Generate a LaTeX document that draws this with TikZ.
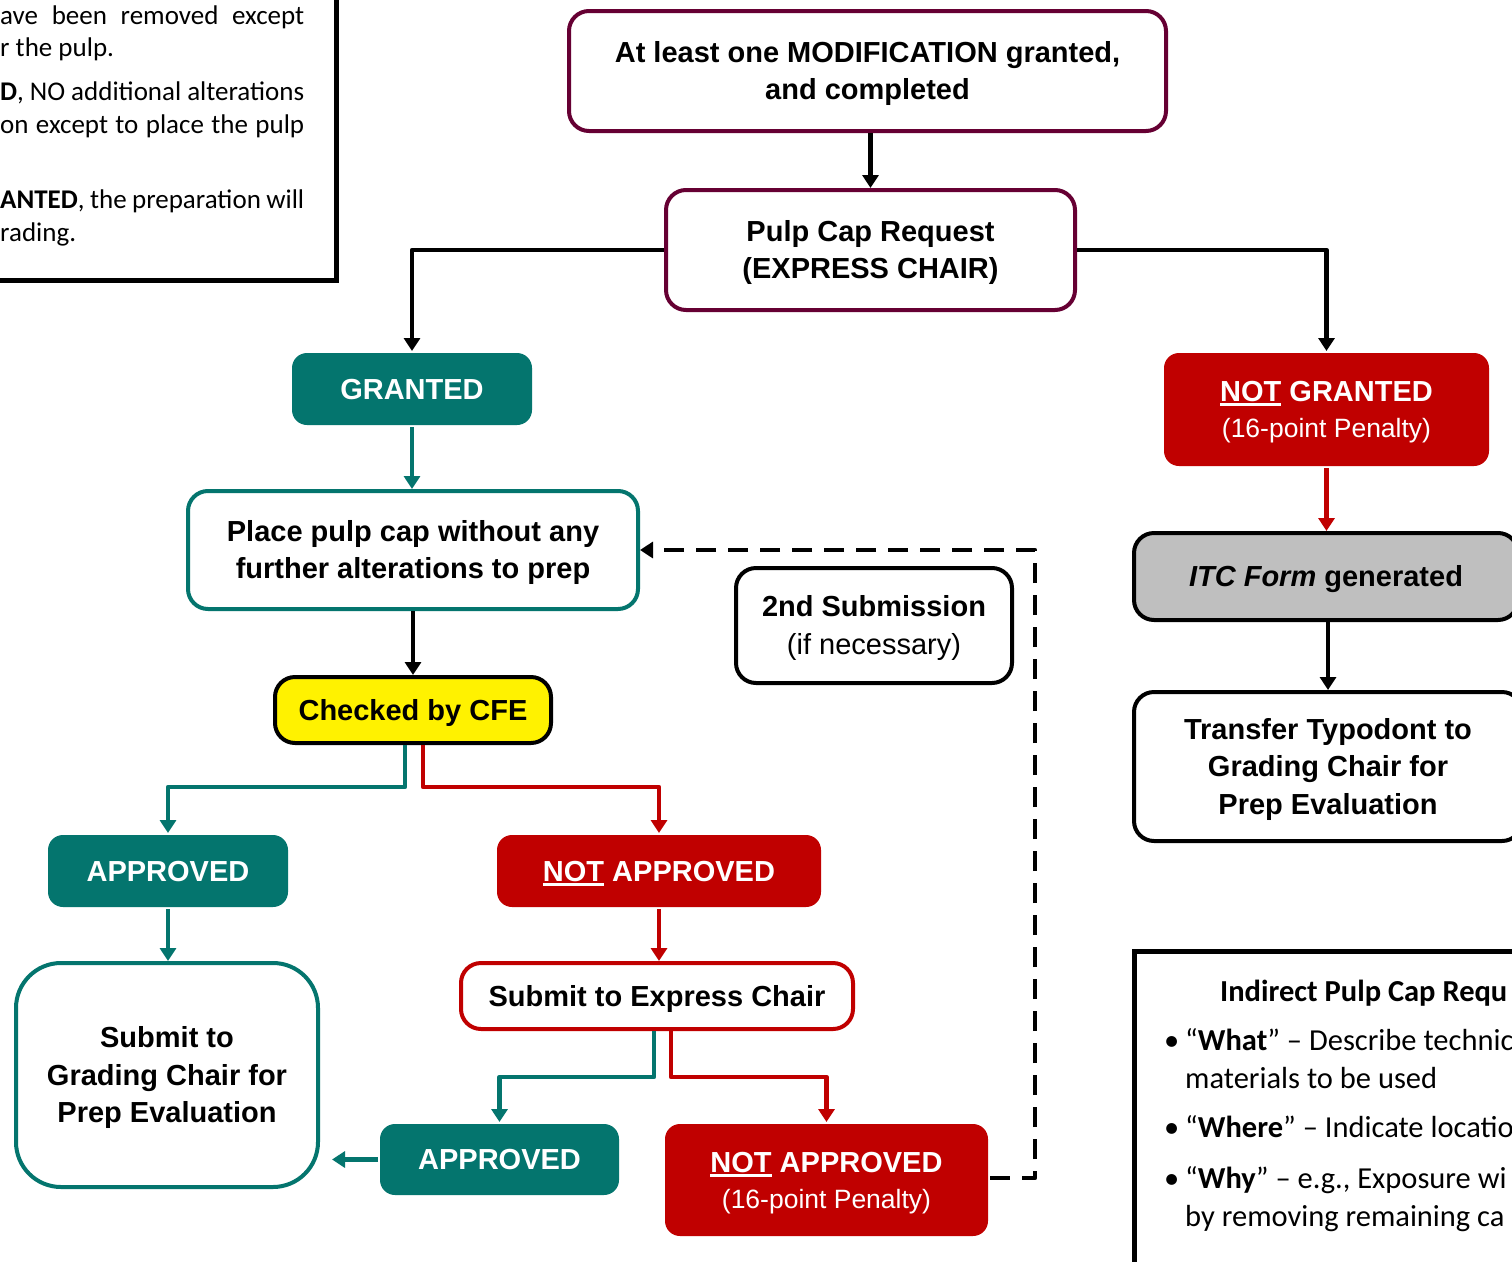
\documentclass[tikz,border=0pt]{standalone}
\usepackage{fontspec}
\setmainfont{Liberation Sans}
\newfontfamily\calfont{Carlito}
\usetikzlibrary{arrows.meta,calc}
\definecolor{mymaroon}{RGB}{102,0,51}
\definecolor{myteal}{RGB}{4,117,110}
\definecolor{myred}{RGB}{192,0,0}
\definecolor{mygray}{RGB}{191,191,191}
\newcommand{\myul}[1]{\setbox0=\hbox{#1}\rlap{\rule[-4.5pt]{\wd0}{2.8pt}}\box0\relax}
\newcommand{\wstrut}{\rule[-6pt]{0pt}{32pt}}
\tikzset{
  box/.style={rounded corners=20pt, line width=4pt, align=center, inner sep=0pt,
    font=\bfseries\fontsize{29}{37.5}\selectfont},
  mbox/.style={box, draw=mymaroon, fill=white},
  tbox/.style={box, draw=myteal, fill=white},
  kbox/.style={box, draw=black, fill=white},
  tfill/.style={box, fill=myteal, text=white, rounded corners=15pt},
  rfill/.style={box, fill=myred, text=white, rounded corners=15pt},
  conn/.style={line width=4.5pt, line join=round, -{Triangle[width=16pt,length=13pt]}},
  cal/.style={anchor=base west, inner sep=0pt, font=\calfont\fontsize{27}{32}\selectfont},
  calb/.style={anchor=base west, inner sep=0pt, font=\calfont\fontsize{30.5}{38}\selectfont},
}
\begin{document}
\begin{tikzpicture}[x=1pt,y=-1pt]
\useasboundingbox (0,0) rectangle (1512,1261);
\clip (0,0) rectangle (1512,1261);
\fill[white] (0,0) rectangle (1512,1261);

% top-left text box
\draw[line width=5pt] (-10,-10) rectangle (336.5,280.5);
\node[cal] (t1) at (0,24) {\makebox[304pt][s]{ave been removed except}};
\node[cal] (t2) at (0,56) {r the pulp.};
\node[cal] (t3) at (0,100) {\makebox[304pt][s]{\textbf{D}, NO additional alterations}};
\node[cal] (t4) at (0,133) {\makebox[304pt][s]{on except to place the pulp}};
\node[cal] (t5) at (0,208) {\makebox[304pt][s]{\textbf{ANTED}, the preparation will}};
\node[cal] (t6) at (0,241) {rading.};

% bottom-right text box
\draw[line width=5pt] (1134.5,951.5) rectangle (1530,1280);
\node[calb] (b0) at (1220,1001) {\textbf{Indirect Pulp Cap Requ}};
\node[calb] (bb1) at (1164,1050) {•};
\node[calb] (b1) at (1185,1050) {“\textbf{What}” – Describe technic};
\node[calb] (b2) at (1185,1088) {materials to be used};
\node[calb] (bb3) at (1164,1137) {•};
\node[calb] (b3) at (1185,1137) {“\textbf{Where}” – Indicate locatio};
\node[calb] (bb4) at (1164,1188) {•};
\node[calb] (b4) at (1185,1188) {“\textbf{Why}” – e.g., Exposure wi};
\node[calb] (b5) at (1185,1226) {by removing remaining ca};

% nodes
\node[mbox, minimum width=597pt, minimum height=120pt] (top) at (867.5,71) {\wstrut At least one MODIFICATION granted,\\and completed\wstrut};
\node[mbox, minimum width=409pt, minimum height=120pt] (pulp) at (870.5,250) {\wstrut Pulp Cap Request\\(EXPRESS CHAIR)\wstrut};
\node[tfill, minimum width=240pt, minimum height=72pt] (gr) at (412,389) {\wstrut GRANTED};
\node[rfill, minimum width=325pt, minimum height=113pt] (ng) at (1326.5,409.5) {\wstrut\myul{NOT} GRANTED\\[-1.5pt]{\mdseries\fontsize{26.5}{36}\selectfont (16-point Penalty)}\wstrut};
\node[tbox, minimum width=450pt, minimum height=118pt] (place) at (413,550) {\wstrut Place pulp cap without any\\further alterations to prep\wstrut};
\node[box, draw=black, fill=mygray, minimum width=384pt, minimum height=87pt] (itc) at (1326,576.5) {\wstrut\textit{ITC Form} generated};
\node[kbox, minimum width=276pt, minimum height=115pt] (sub2) at (874,625.5) {\wstrut 2nd Submission\\{\mdseries (if necessary)}\wstrut};
\node[box, draw=black, fill=yellow, minimum width=276pt, minimum height=66pt] (chk) at (413,710) {\wstrut Checked by CFE};
\node[kbox, minimum width=388pt, minimum height=149pt] (tr) at (1328,766.5) {\wstrut Transfer Typodont to\\Grading Chair for\\Prep Evaluation\wstrut};
\node[tfill, minimum width=240pt, minimum height=72pt] (appr) at (168,871) {\wstrut APPROVED};
\node[rfill, minimum width=324pt, minimum height=72pt] (na) at (659,871) {\wstrut\myul{NOT} APPROVED};
\node[tbox, rounded corners=45pt, minimum width=302pt, minimum height=224pt] (sg) at (167,1075) {\wstrut Submit to\\Grading Chair for\\Prep Evaluation\wstrut};
\node[box, draw=myred, fill=white, minimum width=392pt, minimum height=66pt] (se) at (657,996) {\wstrut Submit to Express Chair};
\node[tfill, minimum width=239pt, minimum height=71pt] (appr2) at (499.5,1159.5) {\wstrut APPROVED};
\node[rfill, minimum width=323pt, minimum height=112pt] (na2) at (826.5,1180) {\wstrut\myul{NOT} APPROVED\\[-1.5pt]{\mdseries\fontsize{26.5}{36}\selectfont (16-point Penalty)}\wstrut};

% connectors
\coordinate (dturn) at (1035,1178);
\draw[conn] (top.south -| pulp.north) -- (pulp.north);
\draw[conn] (pulp.west) -| (gr.north);
\draw[conn] (pulp.east) -| (ng.north);
\draw[conn, myteal] (gr.south) -- (gr.south |- place.north);
\draw[conn, myred] (ng.south) -- (ng.south |- itc.north);
\draw[conn] (itc.south -| tr.north) -- (tr.north);
\draw[conn] (place.south) -- (chk.north);
\draw[conn, myteal] ([xshift=-8pt]chk.south) -- ++(0,42) -| (appr.north);
\draw[conn, myred] ([xshift=10pt]chk.south) -- ++(0,42) -| (na.north);
\draw[conn, myteal] (appr.south) -- (appr.south |- sg.north);
\draw[conn, myred] (na.south) -- (na.south |- se.north);
\draw[conn, myteal] ([xshift=-3pt]se.south) -- ++(0,46) -| (appr2.north);
\draw[conn, myred] ([xshift=14pt]se.south) -- ++(0,46) -| (na2.north);
\draw[conn, myteal] (appr2.west) -- ($(appr2.west -| sg.east)+(12,0)$);
\draw[conn, dash pattern=on 20pt off 12pt] (na2.east |- dturn) -- (dturn) |- (place.east);
\end{tikzpicture}
\end{document}
